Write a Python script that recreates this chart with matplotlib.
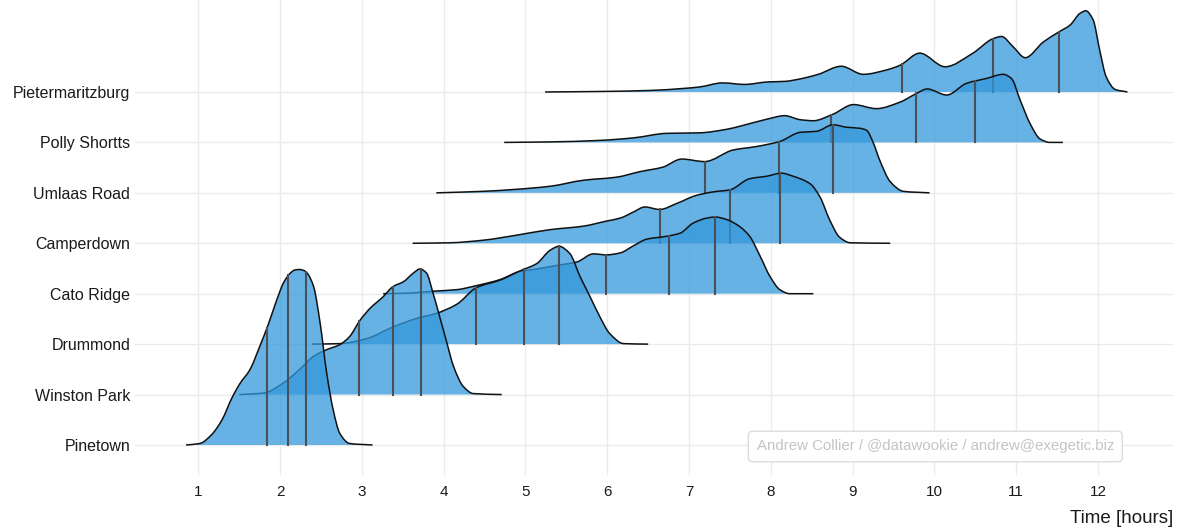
import numpy as np
import matplotlib
matplotlib.use("Agg")
import matplotlib.pyplot as plt
from matplotlib.path import Path
from matplotlib.patches import PathPatch

plt.rcParams['font.family'] = ['Liberation Sans', 'DejaVu Sans']

# stations from bottom row to top row
stations = ["Pinetown", "Winston Park", "Drummond", "Cato Ridge",
            "Camperdown", "Umlaas Road", "Polly Shortts", "Pietermaritzburg"]

# density curves: time [hours] and height (in row units)
pinetown_t = [0.85, 1.02, 1.16, 1.29, 1.41, 1.51, 1.63, 1.75, 1.86, 1.96, 2.04, 2.12, 2.18, 2.24,
              2.29, 2.33, 2.41, 2.49, 2.57, 2.65, 2.73, 2.85, 3.13]
pinetown_d = [0, 0.03, 0.20, 0.50, 0.93, 1.22, 1.49, 1.95, 2.41, 2.88, 3.21, 3.40, 3.47, 3.48,
              3.46, 3.41, 3.14, 2.41, 1.42, 0.69, 0.23, 0.03, 0]

winston_t = [1.50, 1.80, 2.04, 2.24, 2.41, 2.57, 2.73, 2.85, 2.98, 3.10, 3.26, 3.38, 3.51, 3.63,
             3.71, 3.79, 3.87, 3.95, 4.04, 4.12, 4.24, 4.36, 4.71]
winston_d = [0, 0.03, 0.23, 0.50, 0.76, 0.89, 0.99, 1.15, 1.48, 1.71, 1.94, 2.14, 2.24, 2.41,
             2.49, 2.41, 2.01, 1.55, 1.02, 0.56, 0.16, 0.02, 0]

drummond_t = [2.39, 2.73, 3.06, 3.38, 3.67, 3.91, 4.16, 4.40, 4.69, 4.93, 5.14, 5.30, 5.41, 5.54,
              5.67, 5.79, 5.91, 6.03, 6.20, 6.50]
drummond_d = [0, 0.01, 0.11, 0.34, 0.51, 0.61, 0.79, 1.12, 1.27, 1.45, 1.60, 1.86, 1.94, 1.80,
              1.33, 0.94, 0.54, 0.21, 0.01, 0]

cato_t = [3.26, 3.55, 3.87, 4.16, 4.40, 4.69, 4.93, 5.10, 5.38, 5.63, 5.83, 5.99, 6.16, 6.32,
          6.48, 6.73, 6.89, 7.05, 7.22, 7.32, 7.46, 7.62, 7.74, 7.87, 7.99, 8.11, 8.23, 8.52]
cato_d = [0, 0.01, 0.05, 0.08, 0.16, 0.28, 0.44, 0.48, 0.56, 0.63, 0.79, 0.77, 0.81, 0.95,
          1.08, 1.14, 1.20, 1.40, 1.50, 1.52, 1.47, 1.33, 1.14, 0.74, 0.34, 0.08, 0, 0]

camper_t = [3.62, 4.08, 4.48, 4.89, 5.30, 5.71, 5.99, 6.16, 6.32, 6.46, 6.64, 6.85, 7.09, 7.30,
            7.50, 7.74, 7.95, 8.13, 8.27, 8.48, 8.60, 8.72, 8.84, 8.97, 9.46]
camper_d = [0, 0.01, 0.06, 0.16, 0.27, 0.34, 0.44, 0.50, 0.62, 0.72, 0.67, 0.79, 0.95, 1.02,
            1.06, 1.28, 1.33, 1.39, 1.33, 1.18, 0.92, 0.46, 0.12, 0.01, 0]

umlaas_t = [3.91, 4.48, 4.89, 5.30, 5.71, 6.11, 6.40, 6.68, 6.91, 7.19, 7.54, 7.83, 8.11, 8.36,
            8.56, 8.76, 8.93, 9.09, 9.17, 9.25, 9.33, 9.46, 9.62, 9.94]
umlaas_d = [0, 0.03, 0.07, 0.13, 0.25, 0.31, 0.42, 0.51, 0.67, 0.62, 0.85, 0.92, 1.02, 1.20,
            1.22, 1.35, 1.30, 1.28, 1.24, 1.00, 0.65, 0.22, 0.03, 0]

polly_t = [4.74, 5.30, 5.91, 6.32, 6.73, 7.13, 7.46, 7.62, 7.95, 8.17, 8.36, 8.52, 8.76, 9.01,
           9.29, 9.58, 9.78, 9.91, 10.15, 10.39, 10.64, 10.84, 10.94, 11.05, 11.17, 11.29,
           11.41, 11.57]
polly_d = [0, 0.01, 0.04, 0.09, 0.18, 0.19, 0.26, 0.32, 0.46, 0.53, 0.45, 0.43, 0.56, 0.75,
           0.67, 0.80, 0.97, 1.06, 0.94, 1.17, 1.27, 1.35, 1.27, 0.83, 0.37, 0.07, 0, 0]

pmb_t = [5.24, 5.91, 6.52, 6.93, 7.13, 7.41, 7.68, 7.97, 8.17, 8.36, 8.58, 8.86, 9.13, 9.42,
         9.58, 9.82, 10.13, 10.47, 10.72, 10.82, 10.96, 11.11, 11.33, 11.51, 11.66, 11.78,
         11.85, 11.94, 12.02, 12.10, 12.21, 12.36]
pmb_d = [0, 0.01, 0.03, 0.07, 0.10, 0.18, 0.15, 0.20, 0.21, 0.26, 0.35, 0.51, 0.35, 0.44,
         0.53, 0.77, 0.50, 0.77, 1.06, 1.10, 0.90, 0.68, 0.99, 1.18, 1.33, 1.56, 1.61, 1.43,
         0.83, 0.30, 0.05, 0]

# quartiles of each station
quartiles = [[1.84, 2.10, 2.32],
             [2.97, 3.38, 3.72],
             [4.40, 4.98, 5.41],
             [5.98, 6.75, 7.32],
             [6.64, 7.50, 8.11],
             [7.20, 8.10, 8.76],
             [8.74, 9.78, 10.50],
             [9.60, 10.72, 11.52]]

curves = [(pinetown_t, pinetown_d), (winston_t, winston_d), (drummond_t, drummond_d),
          (cato_t, cato_d), (camper_t, camper_d), (umlaas_t, umlaas_d),
          (polly_t, polly_d), (pmb_t, pmb_d)]


def slopes(x, y):
    # shape preserving tangents so the bezier curve does not overshoot
    h = np.diff(x)
    delta = np.diff(y) / h
    m = np.zeros(len(x))
    m[0] = delta[0]
    m[-1] = delta[-1]
    for k in range(1, len(x) - 1):
        if delta[k - 1] * delta[k] > 0:
            w1 = 2 * h[k] + h[k - 1]
            w2 = h[k] + 2 * h[k - 1]
            m[k] = (w1 + w2) / (w1 / delta[k - 1] + w2 / delta[k])
    return m


def smooth_verts(x, y, base):
    m = slopes(x, y)
    verts = [(x[0], base + y[0])]
    codes = [Path.MOVETO]
    for k in range(len(x) - 1):
        h = x[k + 1] - x[k]
        verts += [(x[k] + h / 3, base + y[k] + m[k] * h / 3),
                  (x[k + 1] - h / 3, base + y[k + 1] - m[k + 1] * h / 3),
                  (x[k + 1], base + y[k + 1])]
        codes += [Path.CURVE4] * 3
    return verts, codes


def height_at(q, x, y):
    m = slopes(x, y)
    k = int(np.clip(np.searchsorted(x, q) - 1, 0, len(x) - 2))
    h = x[k + 1] - x[k]
    s = (q - x[k]) / h
    return ((2 * s**3 - 3 * s**2 + 1) * y[k] + (s**3 - 2 * s**2 + s) * h * m[k]
            + (-2 * s**3 + 3 * s**2) * y[k + 1] + (s**3 - s**2) * h * m[k + 1])


fig = plt.figure(figsize=(11.81, 5.28), dpi=100)
ax = fig.add_axes([0.1143, 0.1004, 0.8789, 0.8996])

# draw top row first so lower rows sit on top
for i in range(len(stations) - 1, -1, -1):
    row = i + 1
    t = np.array(curves[i][0], dtype=float)
    d = np.array(curves[i][1], dtype=float)
    z = 20 - 2 * row
    verts, codes = smooth_verts(t, d, row)
    fill_verts = verts + [(t[-1], row), (t[0], row), (t[0], row)]
    fill_codes = codes + [Path.LINETO, Path.LINETO, Path.CLOSEPOLY]
    ax.add_patch(PathPatch(Path(fill_verts, fill_codes), fc='#3498db', alpha=0.75,
                           lw=0, zorder=z))
    ax.add_patch(PathPatch(Path(verts, codes), fc='none', ec='#111111', lw=1.1, zorder=z + 1))
    for q in quartiles[i]:
        top = height_at(q, t, d)
        ax.plot([q, q], [row, row + top], color='#4a5058', lw=1.5, zorder=z + 1)

ax.set_xlim(0.226, 12.916)
ax.set_ylim(0.405, 9.824)
ax.set_xticks(range(1, 13))
ax.set_yticks(range(1, len(stations) + 1))
ax.set_yticklabels(stations)
ax.tick_params(axis='x', length=0, pad=7, labelsize=11, labelcolor='#1a1a1a')
ax.tick_params(axis='y', length=0, pad=3.5, labelsize=11.5, labelcolor='#1a1a1a')
ax.grid(True, color='#ebebeb', lw=1.0)
ax.set_axisbelow(True)
for s in ax.spines.values():
    s.set_visible(False)

ax.set_xlabel('Time [hours]', loc='right', fontsize=13.5, color='#1a1a1a', labelpad=8)

ax.text(10.01, 0.97, 'Andrew Collier / @datawookie / andrew@exegetic.biz',
        ha='center', va='center', fontsize=10.8, color='#c4c4c4', zorder=50,
        bbox=dict(boxstyle='round,pad=0.55,rounding_size=0.3', fc='white', ec='#dcdcdc', lw=1.0))

fig.savefig('out.png', dpi=100)
